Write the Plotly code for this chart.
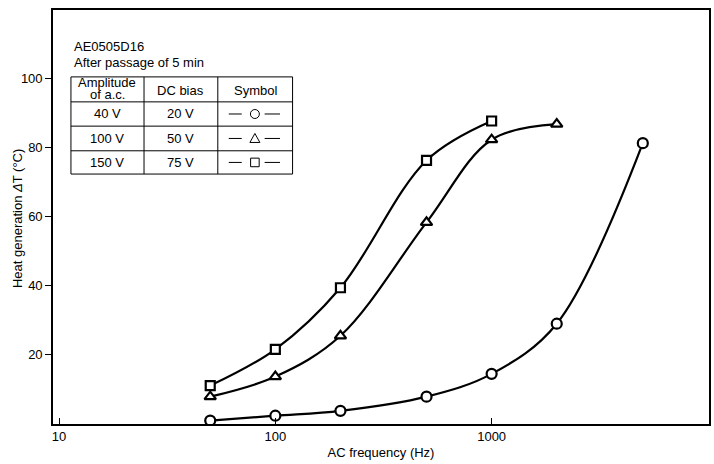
import plotly.graph_objects as go

# ---- data ----
freq_circle = [50, 100, 200, 500, 1000, 2000, 5000]
temp_circle = [1.0, 2.4, 3.8, 7.9, 14.5, 29.0, 81.2]

freq_triangle = [50, 100, 200, 500, 1000, 2000]
temp_triangle = [7.9, 13.7, 25.5, 58.3, 82.2, 86.7]

freq_square = [50, 100, 200, 500, 1000]
temp_square = [11.1, 21.6, 39.4, 76.2, 87.6]

x_tickvals = [10, 100, 1000]
x_ticktext = ["10", "100", "1000"]
y_tickvals = [20, 40, 60, 80, 100]

table_header = [["Amplitude", "of a.c."], ["DC bias"], ["Symbol"]]
table_amplitude = ["40 V", "100 V", "150 V"]
table_dcbias = ["20 V", "50 V", "75 V"]
table_symbols = ["circle", "triangle", "square"]

# ---- layout geometry (pixels) ----
W, H = 714, 464
L, R, T, B = 53, 711, 9.7, 424.3
FONT = "Liberation Sans, Arial, sans-serif"


def px(x):
    return (x - L) / (R - L)


def py(y):
    return (B - y) / (B - T)


fig = go.Figure()

series = [
    (freq_circle, temp_circle, "circle"),
    (freq_triangle, temp_triangle, "triangle-up"),
    (freq_square, temp_square, "square"),
]
for xs, ys, sym in series:
    fig.add_trace(go.Scatter(
        x=xs, y=ys, mode="lines",
        line=dict(color="black", width=2.2, shape="spline", smoothing=1.0),
        hoverinfo="skip", showlegend=False))
for xs, ys, sym in series:
    fig.add_trace(go.Scatter(
        x=xs, y=ys, mode="markers",
        marker=dict(symbol=sym, size=10 if sym != "square" else 9,
                    color="white", line=dict(color="black", width=2.2)),
        showlegend=False))

shapes = []
annotations = []

# table grid
col_x = [71, 144.3, 218.3, 293.3]
row_y = [76.7, 101.7, 126, 150.7, 174]
for cx in col_x:
    shapes.append(dict(type="line", xref="paper", yref="paper",
                       x0=px(cx), x1=px(cx), y0=py(row_y[0]), y1=py(row_y[-1]),
                       line=dict(color="black", width=1)))
for ry in row_y:
    shapes.append(dict(type="line", xref="paper", yref="paper",
                       x0=px(col_x[0]), x1=px(col_x[-1]), y0=py(ry), y1=py(ry),
                       line=dict(color="black", width=1)))


def text(x, y, s, anchor="center", size=13, angle=0):
    annotations.append(dict(x=px(x), y=py(y), xref="paper", yref="paper",
                            text=s, showarrow=False, xanchor=anchor,
                            yanchor="middle", textangle=angle,
                            font=dict(family=FONT, size=size, color="black")))


text(72.5, 46, "AE0505D16", anchor="left")
text(72.5, 62.5, "After passage of 5 min", anchor="left")

col_c = [(col_x[i] + col_x[i + 1]) / 2 for i in range(3)]
# header
text(col_c[0], 82.5, table_header[0][0])
text(col_c[0], 94, table_header[0][1])
text(col_c[1], 90, table_header[1][0])
text(col_c[2], 90, table_header[2][0])

row_c = [(row_y[i] + row_y[i + 1]) / 2 for i in range(1, 4)]
for i in range(3):
    text(col_c[0], row_c[i], table_amplitude[i])
    text(col_c[1], row_c[i], table_dcbias[i])
    yc = row_c[i]
    sx = 255.5
    for a, b in [(229.3, 242.3), (265.3, 280.7)]:
        shapes.append(dict(type="line", xref="paper", yref="paper",
                           x0=px(a), x1=px(b), y0=py(yc), y1=py(yc),
                           line=dict(color="black", width=1)))
    s = table_symbols[i]
    if s == "circle":
        shapes.append(dict(type="circle", xref="paper", yref="paper",
                           x0=px(sx - 4.5), x1=px(sx + 4.5),
                           y0=py(yc + 4.5), y1=py(yc - 4.5),
                           line=dict(color="black", width=1)))
    elif s == "square":
        shapes.append(dict(type="rect", xref="paper", yref="paper",
                           x0=px(sx - 4.3), x1=px(sx + 4.3),
                           y0=py(yc + 4.3), y1=py(yc - 4.3),
                           line=dict(color="black", width=1)))
    else:
        p = "M {} {} L {} {} L {} {} Z".format(
            px(sx - 5), py(yc + 4), px(sx + 5), py(yc + 4), px(sx), py(yc - 5))
        shapes.append(dict(type="path", xref="paper", yref="paper", path=p,
                           line=dict(color="black", width=1)))

# y-axis title as annotation for exact placement
text(18, 219, "Heat generation <i>Δ</i>T (°C)", angle=-90)

fig.update_layout(
    width=W, height=H,
    margin=dict(l=L, r=W - R, t=T, b=H - B, pad=0),
    paper_bgcolor="white", plot_bgcolor="white",
    font=dict(family=FONT, size=13, color="black"),
    shapes=shapes, annotations=annotations,
    xaxis=dict(type="log", range=[0.972, 4.005],
               tickvals=x_tickvals, ticktext=x_ticktext,
               ticks="inside", ticklen=6, tickcolor="black", tickwidth=1,
               showline=True, linecolor="black", linewidth=1.6, mirror=True,
               showgrid=False, zeroline=False,
               title=dict(text="AC frequency (Hz)", standoff=4,
                          font=dict(size=13))),
    yaxis=dict(range=[0, 119.7], tickvals=y_tickvals,
               ticks="outside", ticklen=6, tickcolor="black", tickwidth=1,
               showline=True, linecolor="black", linewidth=1.6, mirror=True,
               showgrid=False, zeroline=False),
)

fig.write_html("out.html")
